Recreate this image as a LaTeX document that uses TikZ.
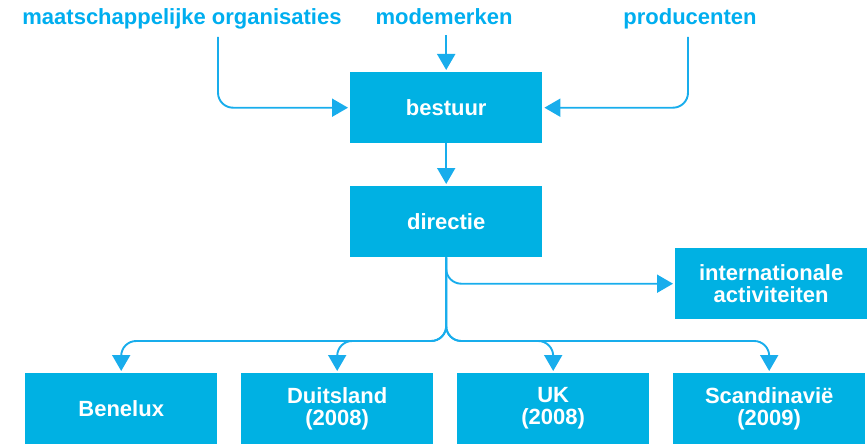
\documentclass[tikz,border=0pt]{standalone}
\usepackage{fontspec}
\setmainfont{Liberation Sans}
\usetikzlibrary{arrows.meta,calc}
\definecolor{boxcyan}{HTML}{00B1E3}
\definecolor{linecyan}{HTML}{18ADEC}
\definecolor{textcyan}{HTML}{00AEEF}
\tikzset{
  orgbox/.style={fill=boxcyan, draw=none, minimum width=192pt, minimum height=71pt,
    inner sep=0pt, text=white, font=\fontsize{22}{22}\selectfont\bfseries, align=center},
  toplabel/.style={text=textcyan, font=\fontsize{22}{22}\selectfont\bfseries, inner sep=0pt, anchor=base},
  conn/.style={draw=linecyan, line width=1.9pt, rounded corners=15pt,
    -{Triangle[width=18pt,length=16pt]}, shorten >=2pt},
}
\begin{document}
\begin{tikzpicture}[x=1pt,y=-1pt]
\useasboundingbox (0,0) rectangle (868,444);
% top labels
\node[toplabel] (maat) at (182,25) {maatschappelijke organisaties};
\node[toplabel] (mode) at (444,25) {modemerken};
\node[toplabel] (prod) at (690,25) {producenten};
% boxes
\node[orgbox, anchor=north west] (bestuur) at (350,72) {bestuur};
\node[orgbox, anchor=north west] (directie) at (350,186) {directie};
\node[orgbox, anchor=north west] (intl) at (675,248) {internationale\\activiteiten};
\node[orgbox, anchor=north west] (benelux) at (25,373) {Benelux};
\node[orgbox, anchor=north west] (duits) at (241,373) {Duitsland\\(2008)};
\node[orgbox, anchor=north west] (uk) at (457,373) {UK\\(2008)};
\node[orgbox, anchor=north west] (scan) at (673,373) {Scandinavië\\(2009)};
% free ends
\coordinate (maatend) at (218,37);
\coordinate (modeend) at (444,35);
\coordinate (prodend) at (688,37);
\coordinate (j) at (444,341);
% connectors
\draw[conn] (maatend) |- (bestuur.west);
\draw[conn] (prodend) |- (bestuur.east);
\draw[conn] (modeend -| bestuur.north) -- (bestuur.north);
\draw[conn] (bestuur.south) -- (directie.north);
\draw[conn] (directie.south) |- (intl.west);
\draw[conn] (directie.south) |- (benelux.north |- j) -- (benelux.north);
\draw[conn] (directie.south) |- (duits.north |- j) -- (duits.north);
\draw[conn] (directie.south) |- (uk.north |- j) -- (uk.north);
\draw[conn] (directie.south) |- (scan.north |- j) -- (scan.north);
\end{tikzpicture}
\end{document}
